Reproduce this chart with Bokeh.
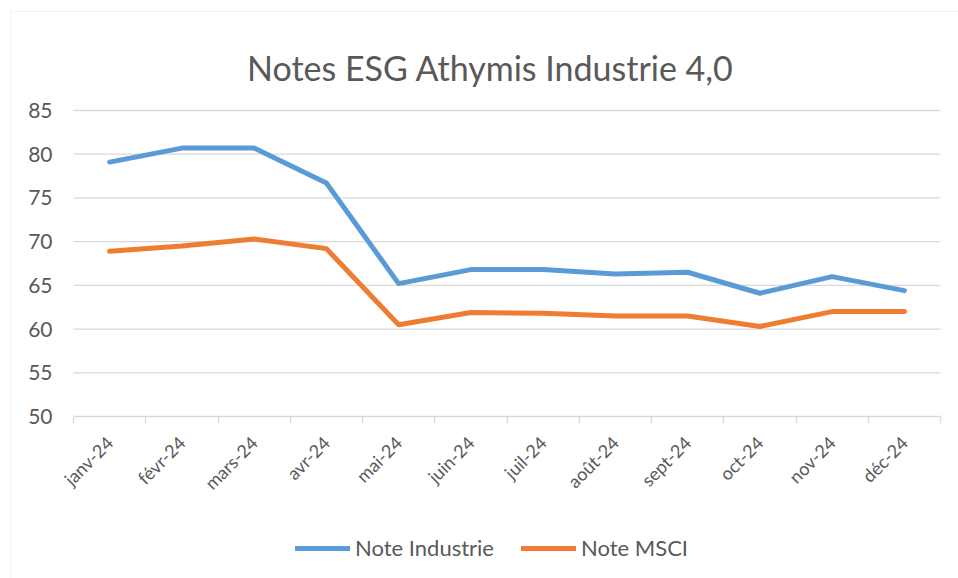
from bokeh.plotting import figure
from bokeh.models import FixedTicker, Legend, LegendItem, Label, BoxAnnotation
from bokeh.embed import file_html
from bokeh.resources import INLINE

months = ["janv-24", "févr-24", "mars-24", "avr-24", "mai-24", "juin-24",
          "juil-24", "août-24", "sept-24", "oct-24", "nov-24", "déc-24"]
note_industrie = [79.1, 80.7, 80.7, 76.7, 65.2, 66.8, 66.8, 66.3, 66.5, 64.1, 66.0, 64.4]
note_msci = [68.9, 69.5, 70.3, 69.2, 60.5, 61.9, 61.8, 61.5, 61.5, 60.3, 62.0, 62.0]
y_ticks = [50, 55, 60, 65, 70, 75, 80, 85]

FONT = "Lato"
GREY = "#595959"
GRID = "#d9d9d9"
W, H = 958, 578

n = len(months)
xs = [i + 0.5 for i in range(n)]

# layout: plotting area from px 73..940 horizontally, value 85 at px 110, 50 at px 416
PX_L, PX_R, PX_T, PX_B = 73, 940, 110, 416
sx = (PX_R - PX_L) / n
sy = (PX_B - PX_T) / (y_ticks[-1] - y_ticks[0])
x_lo = -PX_L / sx
x_hi = n + (W - PX_R) / sx
y_hi = y_ticks[-1] + PX_T / sy
y_lo = y_ticks[0] - (H - PX_B) / sy


def px_x(px):
    return x_lo + px / sx


def px_y(py):
    return y_hi - py / sy


p = figure(width=W, height=H, x_range=(x_lo, x_hi), y_range=(y_lo, y_hi),
           output_backend="svg", toolbar_location=None,
           min_border=0)
p.outline_line_color = None
p.background_fill_color = "white"
p.border_fill_color = "white"
p.xgrid.visible = False
p.ygrid.visible = False

# chart area border
p.add_layout(BoxAnnotation(left=px_x(10), right=px_x(W + 20), top=px_y(11), bottom=px_y(H + 20),
                           fill_alpha=0, line_color=GRID, line_width=1.2))

# title
p.add_layout(Label(x=px_x(490), y=px_y(67), text="Notes ESG Athymis Industrie 4,0",
                   text_align="center", text_baseline="alphabetic",
                   text_font=FONT, text_font_size="34px", text_color=GREY))

# horizontal gridlines
p.segment(x0=[0] * len(y_ticks), x1=[n] * len(y_ticks), y0=y_ticks, y1=y_ticks,
          line_color=GRID, line_width=1.3)

r1 = p.line(xs, note_industrie, line_color="#5B9BD5", line_width=5, line_cap="round", line_join="round")
r2 = p.line(xs, note_msci, line_color="#ED7D31", line_width=5, line_cap="round", line_join="round")

# y axis
ya = p.yaxis[0]
ya.fixed_location = 0
ya.bounds = (y_ticks[0], y_ticks[-1])
ya.ticker = FixedTicker(ticks=y_ticks)
ya.axis_line_color = None
ya.major_tick_line_color = None
ya.minor_tick_line_color = None
ya.major_label_text_font = FONT
ya.major_label_text_font_size = "21px"
ya.major_label_text_color = GREY
ya.major_label_standoff = 15

# x axis (pinned at 50)
xa = p.xaxis[0]
xa.fixed_location = y_ticks[0]
xa.bounds = (0, n)
xa.ticker = FixedTicker(ticks=xs, minor_ticks=list(range(n + 1)))
xa.major_label_overrides = {x: m for x, m in zip(xs, months)}
xa.major_label_orientation = 0.785398
xa.axis_line_color = None
xa.major_tick_line_color = None
xa.minor_tick_line_color = GRID
xa.minor_tick_line_width = 1.3
xa.minor_tick_in = 0
xa.minor_tick_out = 7
xa.major_label_text_font = FONT
xa.major_label_text_font_size = "18px"
xa.major_label_text_color = GREY
xa.major_label_standoff = 16

legend = Legend(items=[LegendItem(label="Note Industrie", renderers=[r1]),
                       LegendItem(label="Note MSCI", renderers=[r2])],
                orientation="horizontal", location=(295, 17),
                glyph_width=55, glyph_height=20, label_standoff=5, spacing=27,
                label_text_font=FONT, label_text_font_size="22px", label_text_color=GREY,
                border_line_color=None, background_fill_alpha=0, margin=0, padding=0)
p.add_layout(legend, "center")

open("out.html", "w").write(file_html(p, INLINE))
